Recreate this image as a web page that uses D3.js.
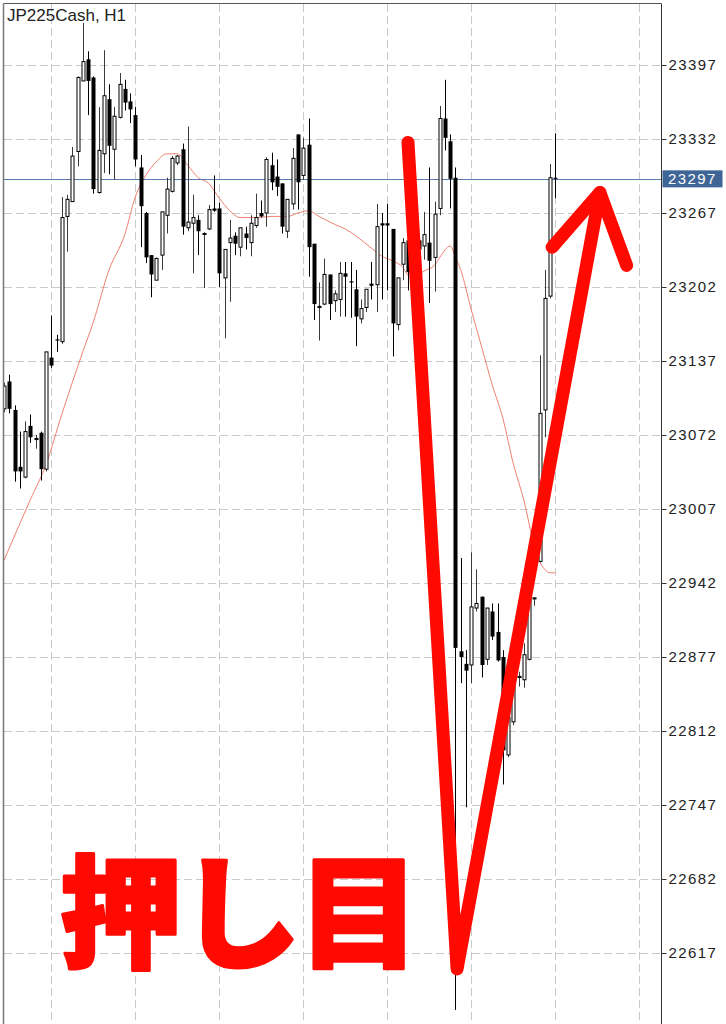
<!DOCTYPE html>
<html><head><meta charset="utf-8">
<script src="https://cdn.jsdelivr.net/npm/d3@7"></script>
<style>body{margin:0;background:#fff}svg{display:block}</style>
</head><body><svg id="c" width="726" height="1024"></svg>
<script>
const title = "JP225Cash, H1";
const opens = [23095,23119,23094,23044,23035,23080,23068,23074,23042,23140,
23156,23154,23264,23277,23321,23383,23402,23386,23285,23319,
23367,23323,23351,23376,23365,23353,23307,23267,23230,23208,
23230,23265,23286,23311,23323,23254,23258,23261,23249,23253,
23271,23271,23210,23241,23247,23237,23249,23241,23256,23267,
23267,23309,23299,23293,23251,23275,23336,23300,23327,23240,
23184,23187,23213,23190,23191,23214,23207,23200,23174,23184,
23205,23204,23258,23258,23253,23169,23222,23243,23217,23243,
23238,23241,23228,23271,23350,23330,23298,22882,22871,22870,
22920,22930,22875,22917,22899,22877,22791,22820,22859,22857,
22875,22928,22961,23094,23194,23298];
const highs = [23118,23125,23098,23075,23084,23090,23072,23075,23145,23177,
23160,23281,23283,23325,23387,23434,23409,23387,23360,23410,
23380,23360,23390,23384,23372,23360,23318,23268,23230,23228,
23268,23298,23317,23318,23328,23343,23283,23265,23250,23274,
23300,23276,23235,23261,23250,23254,23255,23265,23284,23278,
23316,23320,23314,23293,23279,23324,23336,23333,23350,23240,
23206,23227,23213,23199,23224,23224,23224,23217,23191,23200,
23224,23275,23267,23275,23253,23210,23245,23243,23243,23248,
23268,23307,23277,23361,23384,23336,23307,22964,22883,22969,
22954,22930,22920,22924,22924,22883,22826,22859,22864,22889,
22933,22929,23142,23217,23310,23337];
const lows = [23092,23091,23031,23025,23034,23065,23060,23032,23040,23131,
23145,23152,23233,23277,23308,23383,23353,23284,23284,23302,
23301,23296,23350,23357,23346,23308,23237,23223,23193,23208,
23217,23249,23285,23309,23248,23251,23214,23230,23201,23252,
23268,23202,23157,23189,23230,23229,23235,23229,23254,23263,
23255,23287,23282,23249,23245,23270,23270,23296,23211,23173,
23155,23186,23173,23180,23176,23176,23175,23150,23170,23180,
23191,23180,23191,23199,23141,23164,23208,23199,23204,23213,
23226,23188,23198,23265,23322,23271,22567,22854,22745,22854,
22917,22859,22870,22892,22873,22765,22789,22817,22851,22850,
22874,22922,22960,23070,23192,23280];
const closes = [23115,23095,23040,23040,23075,23070,23069,23042,23145,23133,
23155,23263,23279,23317,23386,23400,23383,23288,23322,23370,
23326,23352,23380,23364,23358,23314,23273,23228,23213,23227,
23268,23288,23315,23317,23255,23259,23263,23251,23249,23270,
23269,23214,23235,23245,23240,23254,23245,23258,23263,23264,
23314,23294,23290,23255,23279,23315,23294,23324,23237,23187,
23185,23213,23187,23196,23214,23211,23206,23176,23183,23200,
23203,23255,23256,23256,23170,23210,23241,23215,23235,23235,
23248,23225,23266,23350,23333,23297,22885,22877,22865,22921,
22924,22870,22920,22895,22874,22795,22824,22859,22860,22879,
22933,22929,23091,23192,23298,23297];
// moving average (red line) read at selected bars
const maBars =   [0,5,8,11,15,17,20,23,25,27,29,31,33,35,37,39,41,43,45,48,51,54,56,58,60,63,65,67,70,72,74,76,77,78,80,82,83,85,86,87,89,91,93,95,97,99,101,102,103,104,105];
const maValues = [22962,23015,23046,23090,23145,23171,23217,23248,23281,23300,23312,23319,23319,23309,23298,23293,23280,23269,23263,23263,23264,23264,23267,23269,23264,23257,23253,23247,23236,23229,23225,23219,23212,23210,23216,23221,23228,23238,23228,23217,23182,23149,23116,23087,23047,23015,22975,22961,22954,22951,22951];
const priceTicks = [23397,23332,23267,23202,23137,23072,23007,22942,22877,22812,22747,22682,22617];
const timeGridBars = [9,25,41,57,73,89,105,121];
const lastPrice = 23297;
const annotationText = "押し目";
// hand-drawn red arrow, in (bar index, price)
const arrowStroke1Bars = [76.95, 86.3, 113.5];
const arrowStroke1Prices = [23329, 22603, 23285];
const arrowHeadBars = [104.4, 113.5, 118.6];
const arrowHeadPrices = [23237, 23285, 23221];

const svg = d3.select("#c");
const W = 726, H = 1024;
const plotLeft = 4, plotTop = 4, axisX = 661;
const x = d3.scaleLinear().domain([0, 105]).range([4, 555.25]);
const y = d3.scaleLinear().domain([22617, 23397]).range([953, 65]);

svg.append("rect").attr("width", W).attr("height", H).attr("fill", "#fff");
svg.append("defs").append("clipPath").attr("id", "plot")
  .append("rect").attr("x", plotLeft).attr("y", plotTop).attr("width", axisX - plotLeft).attr("height", H - plotTop);

const plot = svg.append("g").attr("clip-path", "url(#plot)");
// grid
plot.selectAll(".hg").data(priceTicks).join("line")
  .attr("x1", plotLeft).attr("x2", axisX)
  .attr("y1", d => Math.round(y(d)) + 0.5).attr("y2", d => Math.round(y(d)) + 0.5)
  .attr("stroke", "#c9c9c9").attr("stroke-width", 1).attr("stroke-dasharray", "8,4");
plot.selectAll(".vg").data(timeGridBars).join("line")
  .attr("x1", d => Math.round(x(d)) + 0.5).attr("x2", d => Math.round(x(d)) + 0.5)
  .attr("y1", plotTop).attr("y2", H)
  .attr("stroke", "#c9c9c9").attr("stroke-width", 1).attr("stroke-dasharray", "8,4");

// MA line
const maPts = maBars.map((b, i) => [b, maValues[i]]);
plot.append("path").datum(maPts)
  .attr("fill", "none").attr("stroke", "#f08070").attr("stroke-width", 1)
  .attr("d", d3.line().x(d => x(d[0])).y(d => y(d[1])).curve(d3.curveMonotoneX));

// current price line
plot.append("line").attr("x1", plotLeft).attr("x2", axisX)
  .attr("y1", Math.round(y(lastPrice)) + 0.5).attr("y2", Math.round(y(lastPrice)) + 0.5)
  .attr("stroke", "#5a7cb0").attr("stroke-width", 1);

// candles
const bars = opens.map((o, i) => ({i, o, h: highs[i], l: lows[i], c: closes[i]}));
const cg = plot.append("g");
bars.forEach(b => {
  const cx = Math.round(x(b.i)) + 0.5;
  const up = b.c >= b.o;
  cg.append("line").attr("x1", cx).attr("x2", cx)
    .attr("y1", y(b.h)).attr("y2", y(b.l))
    .attr("stroke", up ? "#3a3a3a" : "#000").attr("stroke-width", 1);
  const yt = y(Math.max(b.o, b.c)), yb = y(Math.min(b.o, b.c));
  if (up) {
    cg.append("rect").attr("x", cx - 1.5).attr("y", yt).attr("width", 3)
      .attr("height", Math.max(1, yb - yt))
      .attr("fill", "#fff").attr("stroke", "#000").attr("stroke-width", 1);
  } else {
    cg.append("rect").attr("x", cx - 2).attr("y", yt).attr("width", 4)
      .attr("height", Math.max(1.2, yb - yt)).attr("fill", "#000");
  }
});

// frame
svg.append("line").attr("x1", plotLeft - 0.5).attr("x2", axisX).attr("y1", plotTop - 0.5).attr("y2", plotTop - 0.5)
  .attr("stroke", "#555").attr("stroke-width", 1.2);
svg.append("line").attr("x1", plotLeft - 0.5).attr("x2", plotLeft - 0.5).attr("y1", plotTop - 0.5).attr("y2", H)
  .attr("stroke", "#777").attr("stroke-width", 1.5);
svg.append("line").attr("x1", axisX + 0.5).attr("x2", axisX + 0.5).attr("y1", plotTop - 0.5).attr("y2", H)
  .attr("stroke", "#333").attr("stroke-width", 1);

// price axis
const axis = d3.axisRight(y).tickValues(priceTicks).tickSize(5).tickPadding(2).tickFormat(d3.format("d"));
const ag = svg.append("g").attr("transform", `translate(${axisX + 0.5},0)`).call(axis);
ag.select(".domain").remove();
ag.selectAll(".tick line").attr("stroke", "#333");
ag.selectAll(".tick text").attr("fill", "#222")
  .style("font-family", "'Liberation Sans', Arial, sans-serif").style("font-size", "15px")
  .style("letter-spacing", "1.4px");

// current price label
const ly = y(lastPrice);
svg.append("rect").attr("x", axisX + 1.5).attr("y", ly - 8.5).attr("width", 60).attr("height", 17)
  .attr("fill", "#3f6596");
svg.append("text").attr("x", axisX + 7).attr("y", ly + 5.5).text(d3.format("d")(lastPrice))
  .attr("fill", "#fff").style("font-family", "'Liberation Sans', Arial, sans-serif")
  .style("font-size", "15px").style("letter-spacing", "1.4px");

// title
svg.append("text").attr("x", 7).attr("y", 21).text(title).attr("fill", "#222")
  .style("font-family", "'Liberation Sans', Arial, sans-serif").style("font-size", "17px");

// red annotation
const red = "#ff0a00";
const line = d3.line().x(d => x(d[0])).y(d => y(d[1]));
svg.append("path").datum(arrowStroke1Bars.map((b, i) => [b, arrowStroke1Prices[i]]))
  .attr("d", line).attr("fill", "none").attr("stroke", red).attr("stroke-width", 13)
  .attr("stroke-linecap", "round").attr("stroke-linejoin", "round");
svg.append("path").datum(arrowHeadBars.map((b, i) => [b, arrowHeadPrices[i]]))
  .attr("d", line).attr("fill", "none").attr("stroke", red).attr("stroke-width", 13)
  .attr("stroke-linecap", "round").attr("stroke-linejoin", "round");

svg.append("text").attr("x", 60).attr("y", 958).text(annotationText)
  .attr("fill", red).attr("stroke", red).attr("stroke-width", 3).attr("stroke-linejoin", "round")
  .style("font-family", "'Noto Sans CJK JP', sans-serif").style("font-weight", "900")
  .style("font-size", "122px").style("letter-spacing", "-3px");
</script></body></html>
